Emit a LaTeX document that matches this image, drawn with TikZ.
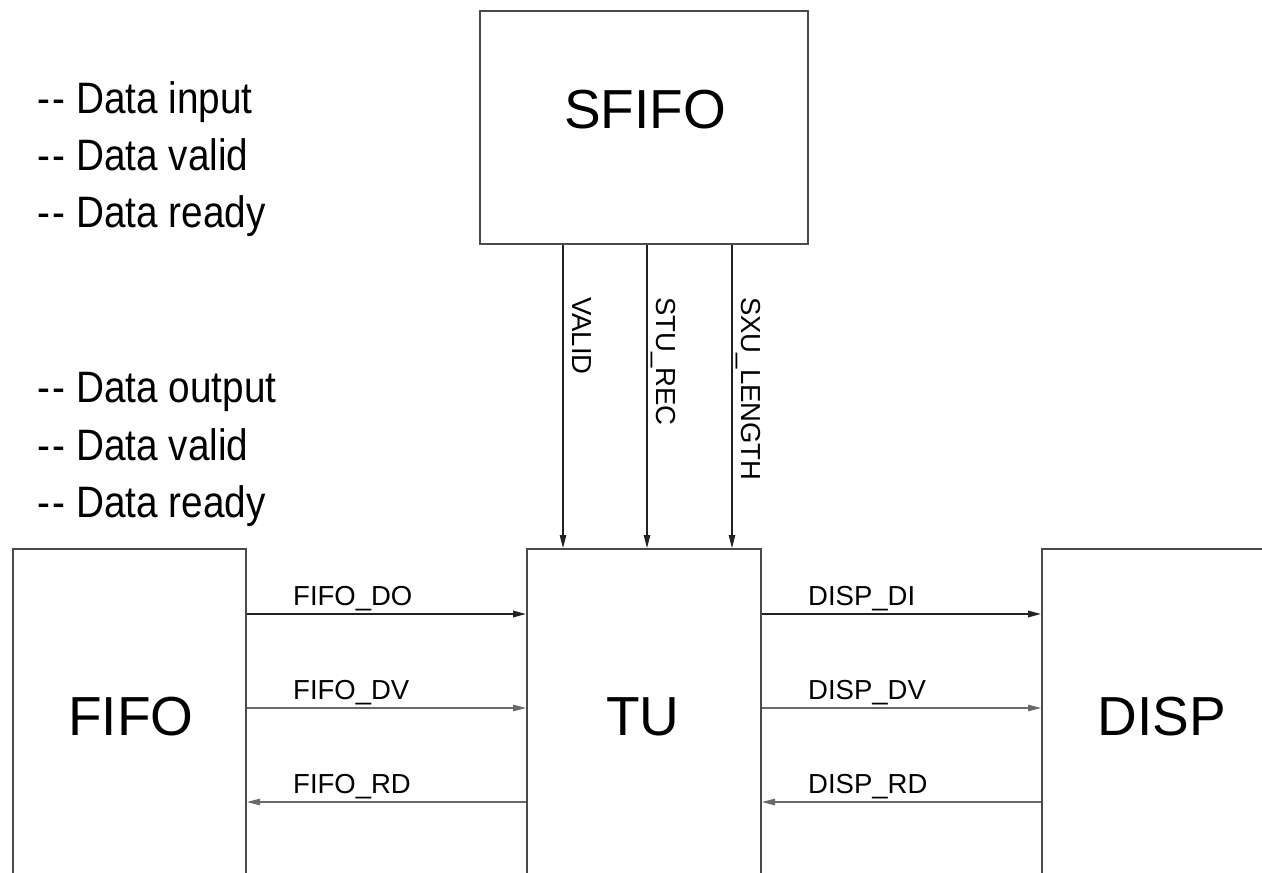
\documentclass[tikz,border=0pt]{standalone}
\usepackage{fontspec}
\setmainfont{Liberation Sans}
\newfontfamily\narrowfont[FakeStretch=0.88]{Liberation Sans}
\usetikzlibrary{arrows.meta}
\definecolor{boxgray}{HTML}{4A4A4A}
\definecolor{sigdark}{HTML}{222222}
\definecolor{siglight}{HTML}{6A6A6A}
\newcommand{\dd}{-\kern2.5pt-}
\tikzset{
  blk/.style={draw=boxgray, line width=2pt, fill=none, inner sep=0pt},
  bigtxt/.style={font=\fontsize{55}{66}\selectfont, inner sep=0pt, anchor=base},
  sigtxt/.style={font=\fontsize{27.5}{33}\selectfont, inner sep=0pt, anchor=base west},
  notetxt/.style={font=\narrowfont\fontsize{44}{52}\selectfont, inner sep=0pt, anchor=base west},
  tip/.style={-{Triangle[length=13pt,width=6.5pt]}},
  sigA/.style={tip, draw=sigdark, line width=1.7pt},
  sigB/.style={tip, draw=siglight, line width=1.2pt},
  sigV/.style={tip, draw=sigdark, line width=1.2pt},
}
\begin{document}
\begin{tikzpicture}[x=1pt,y=-1pt]
\clip (0,0) rectangle (1262,873);
\fill[white] (0,0) rectangle (1262,873);

% blocks
\node[blk, minimum width=328pt, minimum height=233pt, anchor=north west] (sfifo) at (479,10) {};
\node[blk, minimum width=233pt, minimum height=420pt, anchor=north west] (fifo) at (12,548) {};
\node[blk, minimum width=234pt, minimum height=420pt, anchor=north west] (tu) at (526,548) {};
\node[blk, minimum width=260pt, minimum height=420pt, anchor=north west] (disp) at (1041,548) {};

% block titles
\node[bigtxt] (sfifolbl) at (645,128) {SFIFO};
\node[bigtxt] (fifolbl) at (131,735) {FIFO};
\node[bigtxt] (tulbl) at (643,735) {TU};
\node[bigtxt] (displbl) at (1162,735) {DISP};

% notes
\node[notetxt] (n1) at (37,113) {\dd{} Data input};
\node[notetxt] (n2) at (37,170) {\dd{} Data valid};
\node[notetxt] (n3) at (37,227) {\dd{} Data ready};
\node[notetxt] (n4) at (37,402) {\dd{} Data output};
\node[notetxt] (n5) at (37,460) {\dd{} Data valid};
\node[notetxt] (n6) at (37,517) {\dd{} Data ready};

% vertical signals
\draw[sigV] (sfifo.south -| 563,0) -- (tu.north -| 563,0);
\draw[sigV] (sfifo.south -| 647,0) -- (tu.north -| 647,0);
\draw[sigV] (sfifo.south -| 732,0) -- (tu.north -| 732,0);
\node[sigtxt, rotate=-90] (lvalid) at (572,297) {VALID};
\node[sigtxt, rotate=-90] (lstu) at (656,297) {STU\_REC};
\node[sigtxt, rotate=-90] (lsxu) at (741,297) {SXU\_LENGTH};

% FIFO <-> TU
\draw[sigA] (fifo.east |- 0,614) -- (tu.west |- 0,614);
\draw[sigB] (fifo.east |- 0,708) -- (tu.west |- 0,708);
\draw[sigB] (tu.west |- 0,802) -- (fifo.east |- 0,802);
\node[sigtxt] (fdo) at (293,605) {FIFO\_DO};
\node[sigtxt] (fdv) at (293,699) {FIFO\_DV};
\node[sigtxt] (frd) at (293,793) {FIFO\_RD};

% TU <-> DISP
\draw[sigA] (tu.east |- 0,614) -- (disp.west |- 0,614);
\draw[sigB] (tu.east |- 0,708) -- (disp.west |- 0,708);
\draw[sigB] (disp.west |- 0,802) -- (tu.east |- 0,802);
\node[sigtxt] (ddi) at (808,605) {DISP\_DI};
\node[sigtxt] (ddv) at (808,699) {DISP\_DV};
\node[sigtxt] (drd) at (808,793) {DISP\_RD};
\end{tikzpicture}
\end{document}
